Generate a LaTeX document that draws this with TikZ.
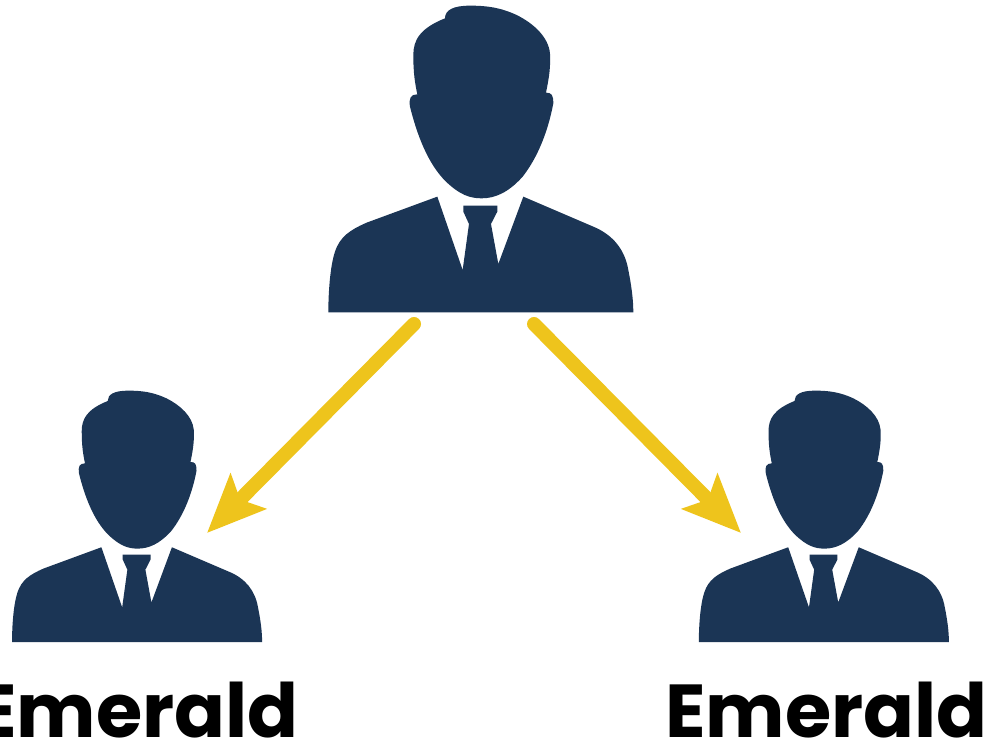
\documentclass[tikz,border=0pt]{standalone}
\usepackage{fontspec}
\setmainfont{Poppins}
\usetikzlibrary{arrows.meta}
\definecolor{navy}{HTML}{1B3555}
\definecolor{gold}{HTML}{EEC41C}
\tikzset{
  personicon/.pic={
    \fill[navy] (375,55) .. controls (300,85) and (280,120) .. (280,165)
      .. controls (280,220) and (285,250) .. (292,283)
      .. controls (272,283) and (266,295) .. (270,320)
      .. controls (290,400) and (322,490) .. (378,545)
      .. controls (420,585) and (450,595) .. (485,595)
      .. controls (525,595) and (565,578) .. (608,530)
      .. controls (655,470) and (685,390) .. (700,310)
      .. controls (700,285) and (695,278) .. (678,278)
      .. controls (688,230) and (692,200) .. (690,160)
      .. controls (685,110) and (640,70) .. (590,45)
      .. controls (540,22) and (500,17) .. (450,17)
      .. controls (400,17) and (375,30) .. (375,55) -- cycle;
    \fill[navy] (25,937) .. controls (25,880) and (30,800) .. (45,755)
      .. controls (60,710) and (90,690) .. (140,668)
      -- (352,590) -- (428,810) -- (447,672) -- (430,635) -- (430,617)
      -- (532,617) -- (532,635) -- (513,672) -- (535,792) -- (610,590)
      -- (820,680) .. controls (880,705) and (915,750) .. (925,810)
      .. controls (935,860) and (940,900) .. (940,937) -- cycle;
  },
  link/.style={draw=gold, line width=14pt, line cap=round,
    -{Stealth[length=58pt, width=49pt, inset=11pt]}},
  label/.style={inner sep=0pt, anchor=base west, font=\fontsize{75}{75}\selectfont\bfseries, text=black}
}
\begin{document}
\begin{tikzpicture}[x=1pt,y=-1pt]
\useasboundingbox (0,0) rectangle (987,744);
\fill[white] (0,0) rectangle (987,744);
\begin{scope}[shift={(320,0)},x=0.3333pt,y=-0.3333pt]
  \pic {personicon};
\end{scope}
\begin{scope}[shift={(5.2,386)},x=0.2733pt,y=-0.2733pt]
  \pic {personicon};
\end{scope}
\begin{scope}[shift={(692,386)},x=0.2733pt,y=-0.2733pt]
  \pic {personicon};
\end{scope}
\coordinate (topL) at (414,324);
\coordinate (topR) at (534,324);
\coordinate (leftHead) at (207,533);
\coordinate (rightHead) at (741,533);
\draw[link] (topL) -- (leftHead);
\draw[link] (topR) -- (rightHead);
\node[label] (emeraldL) at (-24,737) {Emerald};
\node[label] (emeraldR) at (665,737) {Emerald};
\end{tikzpicture}
\end{document}
